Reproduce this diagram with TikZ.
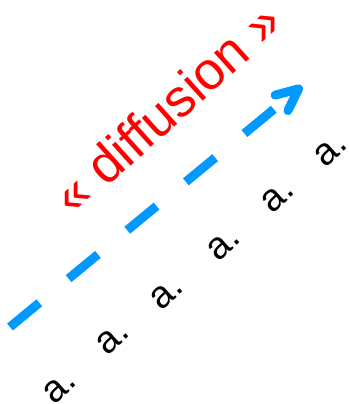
\documentclass[tikz,border=0pt]{standalone}
\usepackage{fontspec}
\setmainfont{Liberation Sans}
\usetikzlibrary{arrows.meta}
\definecolor{arrowblue}{RGB}{0,153,255}

\begin{document}
\begin{tikzpicture}[x=1pt, y=1pt, letter_node/.style={rotate=42, inner sep=0pt, font=\fontsize{38}{38}\selectfont}, title_node/.style={rotate=42, inner sep=0pt, text=red, font=\fontsize{53}{53}\selectfont}]
				\useasboundingbox (0,0) rectangle (350,404);
				\coordinate (start) at (10,77);
				\coordinate (tip) at (302,318);
				\draw[arrowblue, line width=9pt, dash pattern=on 38pt off 38pt, -{Straight Barb[length=22pt, width=20pt, round]}] (start) -- (tip);
				\node[title_node](title) at (167,296){« diffusion »};
				\node[letter_node](a1) at (60,17){a.};
				\node[letter_node](a2) at (113,66){a.};
				\node[letter_node](a3) at (167,111){a.};
				\node[letter_node](a4) at (224,160){a.};
				\node[letter_node](a5) at (278,208){a.};
				\node[letter_node](a6) at (331,254){a.};
			\end{tikzpicture}
\end{document}
